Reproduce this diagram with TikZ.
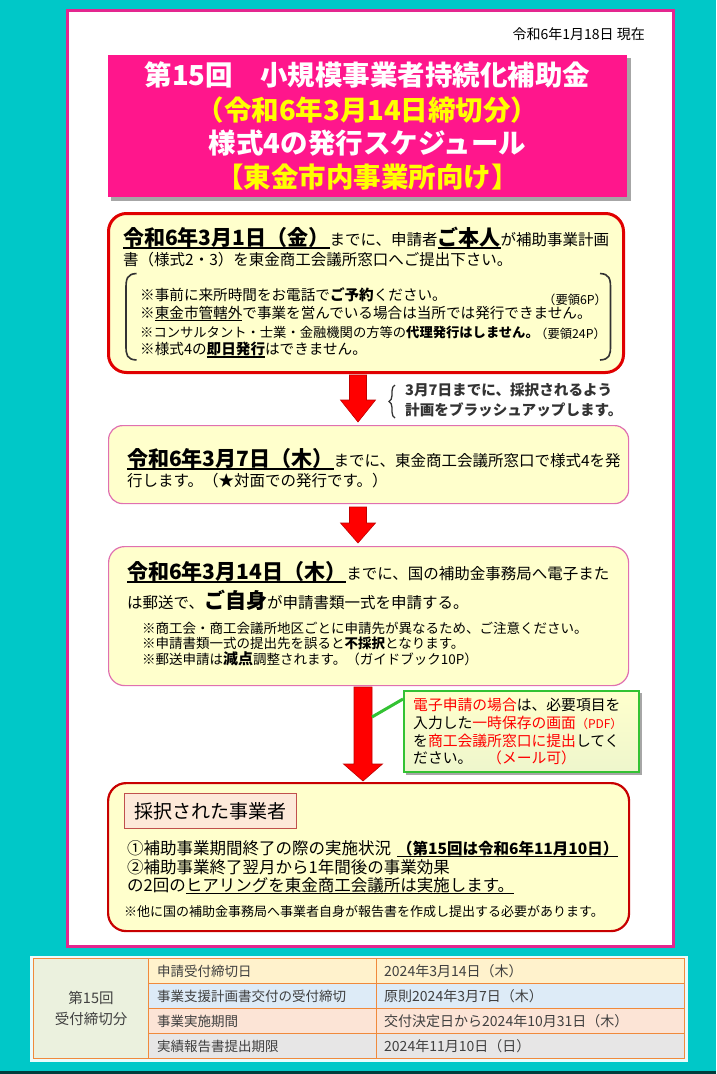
\documentclass[tikz,border=0pt]{standalone}
\usepackage{fontspec}
\setmainfont{Noto Sans CJK JP}
\usetikzlibrary{decorations.pathreplacing,calc}
\definecolor{bgcyan}{HTML}{00C8C8}
\definecolor{panelpink}{HTML}{E4268F}
\definecolor{titlepink}{HTML}{FF168C}
\definecolor{titleyellow}{HTML}{FFFF00}
\definecolor{boxfill}{HTML}{FFFFCC}
\definecolor{boxred}{HTML}{E00000}
\definecolor{boxdred}{HTML}{C80000}
\definecolor{thinpink}{HTML}{E070B0}
\definecolor{arrowred}{HTML}{FF0000}
\definecolor{arrowdark}{HTML}{C00000}
\definecolor{calgreen}{HTML}{33C233}
\definecolor{calred}{HTML}{FF0000}
\definecolor{peach}{HTML}{FDE9D9}
\definecolor{peachline}{HTML}{C0504D}
\definecolor{tblorange}{HTML}{F08A3C}
\definecolor{tgreen}{HTML}{EBF1DE}
\definecolor{tyellow}{HTML}{FFF2CC}
\definecolor{tblue}{HTML}{DDEBF7}
\definecolor{tsalmon}{HTML}{FCE4D6}
\definecolor{tgray}{HTML}{E7E6E6}
\definecolor{ttext}{HTML}{404040}
\definecolor{bracegray}{HTML}{333333}
\newcommand\myfs[1]{\fontsize{#1}{#1}\selectfont}
\newcommand\myul[1]{\setbox0=\hbox{#1}\rlap{\rule[-3pt]{\wd0}{1.3pt}}\box0}
\newcommand\bigdt[1]{{\myfs{21}\bfseries #1}}
\newcommand\redarrow[6]{\fill[arrowred, draw=arrowdark, line width=0.6pt] (#1-#5,#2) -- (#1+#5,#2) -- (#1+#5,#3) -- (#1+#6,#3) -- (#1,#4) -- (#1-#6,#3) -- (#1-#5,#3) -- cycle;}
\begin{document}
\begin{tikzpicture}[x=1pt,y=-1pt,
  ln/.style={anchor=west, inner sep=0pt, font=\myfs{15.5}},
  notetxt/.style={anchor=west, inner sep=0pt, font=\myfs{14.6}},
  ttl/.style={anchor=center, inner sep=0pt, font=\myfs{27.5}\bfseries},
  boxbase/.style={anchor=north west, inner sep=0pt, fill=boxfill},
  cell/.style={anchor=west, inner sep=0pt, font=\myfs{13.5}, text=ttext}]
\useasboundingbox (0,0) rectangle (716,1074);
% background
\fill[bgcyan] (0,0) rectangle (716,1074);
\fill[black!70!bgcyan] (0,1071) rectangle (716,1074);
% panel
\node[anchor=north west, inner sep=0pt, fill=white, draw=panelpink, line width=3pt,
  minimum width=606, minimum height=936] (panel) at (65.5,8.5) {};
% date
\node[anchor=east, inner sep=0pt, font=\myfs{14}] (date) at (645,34) {令和6年1月18日 現在};
% title
\fill[black!35] (111,58) rectangle (631,201);
\node[anchor=north west, inner sep=0pt, fill=titlepink, minimum width=519, minimum height=142] (title) at (108,55) {};
\node[ttl, text=white] (t1) at (367.5,75) {第15回　小規模事業者持続化補助金};
\node[ttl, text=titleyellow] (t2) at (367.5,110) {（令和6年3月14日締切分）};
\node[ttl, text=white] (t3) at (367.5,143) {様式4の発行スケジュール};
\node[ttl, text=titleyellow] (t4) at (367.5,177) {【東金市内事業所向け】};
% box 1
\node[boxbase, draw=boxred, line width=3pt, rounded corners=18pt, minimum width=515, minimum height=159] (b1) at (107,212) {};
\node[ln] (b1a) at (123,238) {\myul{\bigdt{令和6年3月1日（金）}}までに、申請者\myul{\bigdt{ご本人}}が補助事業計画};
\node[ln] (b1b) at (123,260) {書（様式2・3）を東金商工会議所窓口へご提出下さい。};
\draw[bracegray, line width=1.6pt] (136.5,273.5) .. controls (127,274) and (126,279) .. (126,288) -- (126,346) .. controls (126,355) and (127,359.5) .. (136.5,360);
\draw[bracegray, line width=1.6pt] (600,273.5) .. controls (609.5,274) and (610.5,279) .. (610.5,288) -- (610.5,346) .. controls (610.5,355) and (609.5,359.5) .. (600,360);
\node[notetxt] (n1) at (140,295) {※事前に来所時間をお電話で\textbf{ご予約}ください。};
\node[notetxt] (n2) at (140,313.5) {※\myul{東金市管轄外}で事業を営んでいる場合は当所では発行できません。};
\node[notetxt, font=\myfs{13.3}] (n3) at (140,332) {※コンサルタント・士業・金融機関の方等の\textbf{代理発行はしません。}};
\node[notetxt] (n4) at (140,350) {※様式4の\myul{\textbf{即日発行}}はできません。};
\node[anchor=west, inner sep=0pt, font=\myfs{12.3}] (r6) at (543,299.5) {（要領6P）};
\node[anchor=west, inner sep=0pt, font=\myfs{12.3}] (r24) at (535,334) {（要領24P）};
% arrow 1 + brace
\redarrow{358}{375}{400}{422}{8.5}{17.5}
\draw[bracegray, line width=1.3pt, decorate, decoration={brace, amplitude=6pt}] (395,418) -- (395,385);
\node[anchor=west, inner sep=0pt, font=\myfs{14.6}\bfseries, text=bracegray] (br1) at (405,390) {3月7日までに、採択されるよう};
\node[anchor=west, inner sep=0pt, font=\myfs{14.6}\bfseries, text=bracegray] (br2) at (405,410) {計画をブラッシュアップします。};
% box 2
\node[boxbase, draw=thinpink, line width=1.2pt, rounded corners=14pt, minimum width=520, minimum height=78] (b2) at (108,425) {};
\node[ln] (b2a) at (127,459) {\myul{\bigdt{令和6年3月7日（木）}}までに、東金商工会議所窓口で様式4を発};
\node[ln] (b2b) at (127,481) {行します。（★対面での発行です。）};
% arrow 2
\redarrow{358}{507}{523}{543}{8.5}{17.5}
% box 3
\node[boxbase, draw=thinpink, line width=1.2pt, rounded corners=16pt, minimum width=520, minimum height=139] (b3) at (108,546) {};
\node[ln] (b3a) at (127,572) {\myul{\bigdt{令和6年3月14日（木）}}までに、国の補助金事務局へ電子また};
\node[ln] (b3b) at (127,600) {は郵送で、\bigdt{ご自身}が申請書類一式を申請する。};
\node[notetxt, font=\myfs{13.5}] (n5) at (142,628) {※商工会・商工会議所地区ごとに申請先が異なるため、ご注意ください。};
\node[notetxt, font=\myfs{13.5}] (n6) at (142,643.5) {※申請書類一式の提出先を誤ると\textbf{不採択}となります。};
\node[notetxt, font=\myfs{13.5}] (n7) at (142,659) {※郵送申請は{\myfs{15}\textbf{減点}}調整されます。（ガイドブック10P）};
% arrow 3
\redarrow{363}{687}{764}{781}{9}{19.5}
% callout
\fill[black!35] (406,693) rectangle (641.5,774.5);
\node[anchor=north west, inner sep=0pt, draw=calgreen, line width=2pt, top color=boxfill, bottom color={rgb,255:red,238;green,246;blue,204},
  minimum width=235, minimum height=81] (co) at (403,690) {};
\coordinate (a3edge) at (372,717);
\draw[calgreen, line width=3pt] (a3edge) -- ($(co.north west)+(0,9)$);
\node[anchor=west, inner sep=0pt, font=\myfs{14.8}] (c1) at (413,705) {\textcolor{calred}{電子申請の場合}は、必要項目を};
\node[anchor=west, inner sep=0pt, font=\myfs{14.8}] (c2) at (413,723) {入力した\textcolor{calred}{一時保存の画面}{\myfs{12}\textcolor{calred}{（PDF）}}};
\node[anchor=west, inner sep=0pt, font=\myfs{14.8}] (c3) at (413,741) {を\textcolor{calred}{商工会議所窓口に提出}してく};
\node[anchor=west, inner sep=0pt, font=\myfs{14.8}] (c4) at (413,758) {ださい。　\textcolor{calred}{（メール可）}};
% box 4
\node[boxbase, draw=boxdred, line width=2.2pt, rounded corners=18pt, minimum width=521, minimum height=148] (b4) at (107,782) {};
\node[anchor=north west, inner sep=0pt, fill=peach, draw=peachline, line width=1pt, minimum width=172, minimum height=35] (sel) at (124,793) {};
\node[anchor=west, inner sep=0pt, font=\myfs{19}] (selt) at (134,811) {採択された事業者};
\node[ln, font=\myfs{16.5}] (l1) at (127,849) {①補助事業期間終了の際の実施状況\hspace{6pt}\myul{{\myfs{15.5}\textbf{（第15回は令和6年11月10日）}}}};
\node[ln, font=\myfs{16.5}] (l2) at (127,867.5) {②補助事業終了翌月から1年間後の事業効果};
\node[ln, font=\myfs{16.5}] (l3) at (127,886) {の2回の\myul{ヒアリングを東金商工会議所は実施します。}};
\node[ln, font=\myfs{13}] (l4) at (124,912) {※他に国の補助金事務局へ事業者自身が報告書を作成し提出する必要があります。};
% table
\fill[white!92!bgcyan] (30,955.5) rectangle (688,1061.5);
\fill[tgreen] (33.5,958.5) rectangle (148.5,1058.5);
\fill[tyellow] (148.5,958.5) rectangle (684.5,983.5);
\fill[tblue] (148.5,983.5) rectangle (684.5,1008.5);
\fill[tsalmon] (148.5,1008.5) rectangle (684.5,1033.5);
\fill[tgray] (148.5,1033.5) rectangle (684.5,1058.5);
\draw[tblorange, line width=1.8pt] (33.5,958.5) rectangle (684.5,1058.5);
\draw[tblorange, line width=1.8pt] (148.5,958.5) -- (148.5,1058.5);
\draw[tblorange, line width=1.8pt] (376.5,958.5) -- (376.5,1058.5);
\draw[tblorange, line width=1.8pt] (148.5,983.5) -- (684.5,983.5);
\draw[tblorange, line width=1.8pt] (148.5,1008.5) -- (684.5,1008.5);
\draw[tblorange, line width=1.8pt] (148.5,1033.5) -- (684.5,1033.5);
\node[anchor=center, inner sep=0pt, font=\myfs{14.5}, text=ttext] (k1) at (91,998) {第15回};
\node[anchor=center, inner sep=0pt, font=\myfs{14.5}, text=ttext] (k2) at (91,1019) {受付締切分};
\node[cell] (r1a) at (157,971) {申請受付締切日};
\node[cell] (r2a) at (157,996) {事業支援計画書交付の受付締切};
\node[cell] (r3a) at (157,1021) {事業実施期間};
\node[cell] (r4a) at (157,1046) {実績報告書提出期限};
\node[cell, font=\myfs{14}] (r1b) at (384,971) {2024年3月14日（木）};
\node[cell, font=\myfs{14}] (r2b) at (384,996) {原則2024年3月7日（木）};
\node[cell, font=\myfs{14}] (r3b) at (384,1021) {交付決定日から2024年10月31日（木）};
\node[cell, font=\myfs{14}] (r4b) at (384,1046) {2024年11月10日（日）};
\end{tikzpicture}
\end{document}
